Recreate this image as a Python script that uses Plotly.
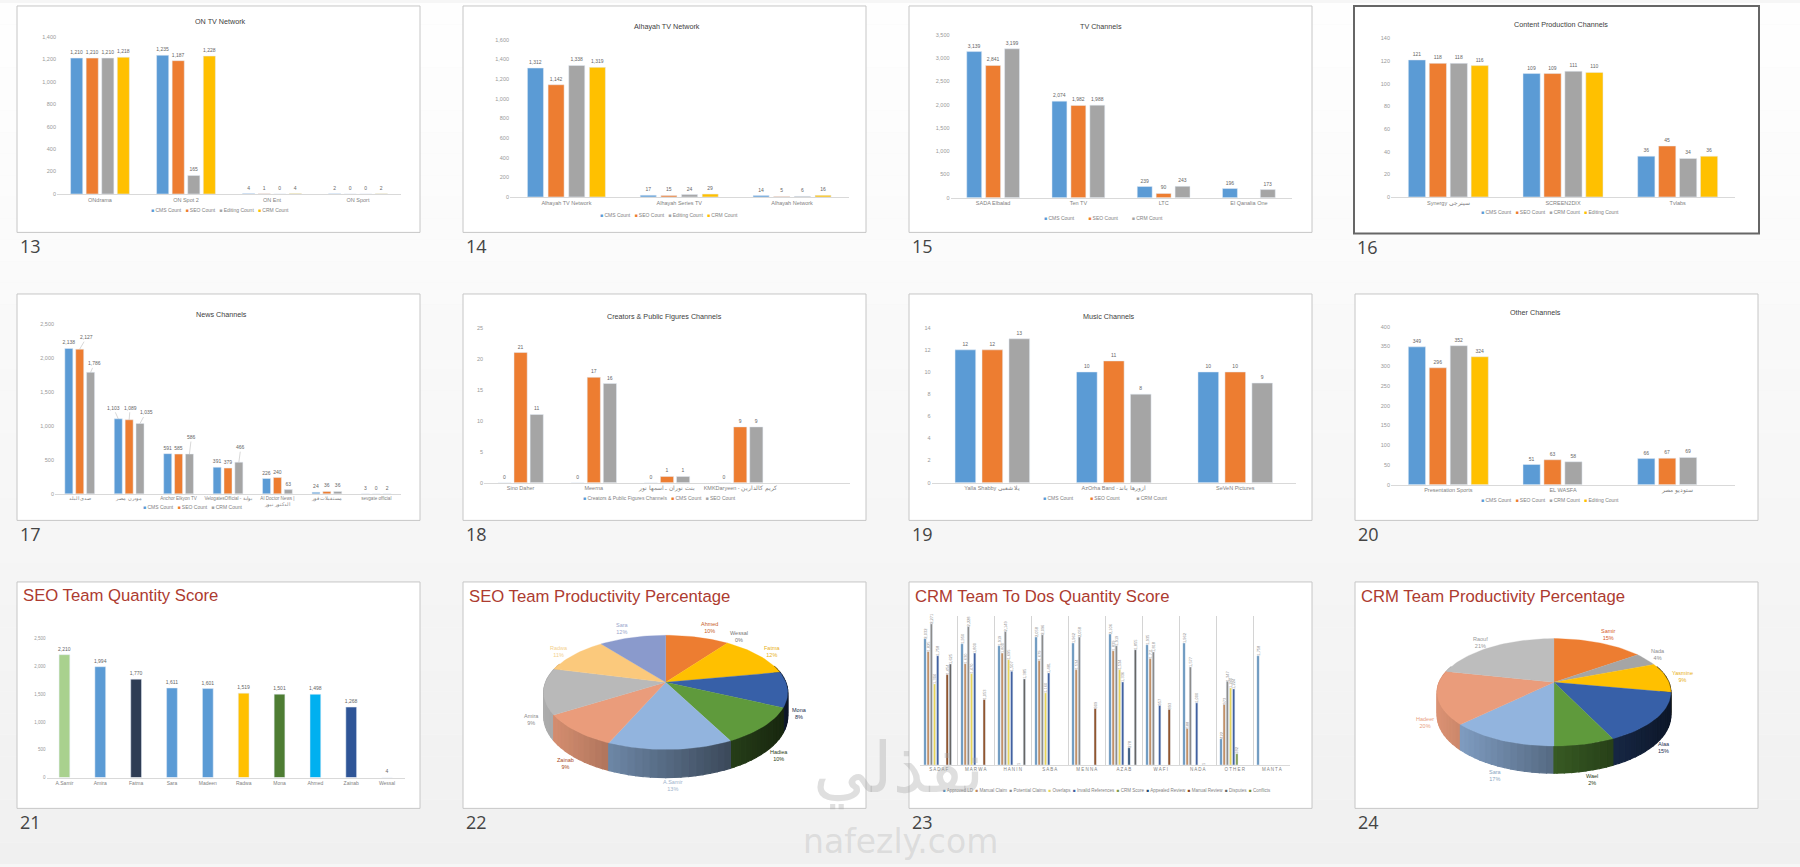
"""Slide sorter view: channel count charts and team productivity pies."""

import math

import plotly.graph_objects as go

WIDTH = 1800
HEIGHT = 867

BLUE = "#5b9bd5"
ORANGE = "#ed7d31"
GRAY = "#a5a5a5"
YELLOW = "#ffc000"
FONT = "Liberation Sans"
TEXT_GRAY = "#7f7f7f"

# slide 13
on_tv_cats = ["ONdrama", "ON Spot 2", "ON Ent", "ON Sport"]
on_tv_cms = [1210, 1235, 4, 2]
on_tv_seo = [1210, 1187, 1, 0]
on_tv_editing = [1210, 165, 0, 0]
on_tv_crm = [1218, 1228, 4, 2]

# slide 14
alhayah_cats = ["Alhayah TV Network", "Alhayah Series TV", "Alhayah Network"]
alhayah_cms = [1312, 17, 14]
alhayah_seo = [1142, 15, 5]
alhayah_editing = [1338, 24, 6]
alhayah_crm = [1319, 29, 16]

# slide 15
tv_cats = ["SADA Elbalad", "Ten TV", "LTC", "El Qanalia One"]
tv_cms = [3139, 2074, 239, 196]
tv_seo = [2841, 1982, 90, None]
tv_crm = [3199, 1988, 243, 173]

# slide 16
content_cats = ["Synergy سينرجي", "SCREEN2DIX", "Tvlabs"]
content_cms = [121, 109, 36]
content_seo = [118, 109, 45]
content_crm = [118, 111, 34]
content_editing = [116, 110, 36]

# slide 17
news_cats = [
    "صدى البلد",
    "مودرن مصر",
    "Anchor Elkyon TV",
    "VelogatesOfficial - بوابة",
    "Al Doctor News |<br>الدكتور نيوز",
    "مستقبلات فور",
    "sevgate official",
]
news_cms = [2138, 1103, 591, 391, 226, 24, 3]
news_seo = [2127, 1089, 585, 379, 240, 36, 0]
news_crm = [1786, 1035, 586, 466, 63, 36, 2]
# series index, category index, label shift in px
news_callouts = [
    (1, 0, 7, -9),
    (2, 0, 4, -6),
    (0, 1, -5, -8),
    (1, 1, 1, -9),
    (2, 1, 6, -8),
    (2, 2, 2, -14),
    (2, 3, 2, -12),
]

# slide 18
creators_cats = ["Sino Daher", "Meerna", "بنت نوران ـ اسمها نور", "KMKDaryeen - كريم كالدارين", ""]
creators_channels = [0, 0, 0, 0, None]
creators_cms = [21, 17, 1, 9, None]
creators_seo = [11, 16, 1, 9, None]

# slide 19
music_cats = ["Yalla Shabby يلا شعبي", "AzOrha Band - ازورها باند", "SeVeN Pictures"]
music_cms = [12, 10, 10]
music_seo = [12, 11, 10]
music_crm = [13, 8, 9]

# slide 20
other_cats = ["Presentation Sports", "EL WASFA", "ستوديو مصر"]
other_cms = [349, 51, 66]
other_seo = [296, 63, 67]
other_crm = [352, 58, 69]
other_editing = [324, None, None]

# slide 21
seo_names = ["A.Samir", "Amira", "Fatma", "Sara", "Madeen", "Radwa", "Mona", "Ahmed", "Zainab", "Wessal"]
seo_scores = [2210, 1994, 1770, 1611, 1601, 1519, 1501, 1498, 1268, 4]
seo_colors = ["#a9d18e", BLUE, "#2f3d55", BLUE, BLUE, YELLOW, "#4e7d33", "#00b0f0", "#2f5597", "#2f5597"]

# slide 22
seo_pie_names = ["Ahmed", "Wessal", "Fatma", "Mona", "Hadiea", "A.Samir", "Zainab", "Amira", "Radwa", "Sara"]
seo_pie_sizes = [10, 0, 12, 10, 10.5, 14, 9.5, 13, 10.5, 10.5]
seo_pie_labels = ["10%", "0%", "12%", "8%", "10%", "13%", "9%", "9%", "11%", "12%"]
seo_pie_colors = ["#ed7d31", "#a5a5a5", "#ffc000", "#3760a8", "#5f9a3c", "#92b4de", "#ea9c7b", "#b9b9b9", "#fbc97c", "#8a9acc"]
seo_pie_text_colors = ["#c8602a", "#777777", "#e8b020", "#1a2a4a", "#2a4015", "#9fb4cc", "#a8481a", "#8c8c8c", "#f3d08c", "#9aa6cc"]
seo_pie_spots = [(709, 629), (739, 638), (772, 653), (799, 715), (779, 758), (673, 788), (565, 766), (531, 721), (559, 653), (622, 630)]

# slide 23
crm_cats = ["SADAF", "MARWA", "HANIN", "SABA", "MENNA", "AZAB", "WAFI", "NADA", "OTHER", "MANTA"]
crm_series = ["Approved LD", "Manual Claim", "Potential Claims", "Overlaps", "Invalid References",
              "CRM Score", "Appealed Review", "Manual Review", "Disputes", "Conflicts"]
crm_colors = ["#5b8db8", "#c08a5c", "#8c8c8c", "#e8d45a", "#3f5f9f", "#7f9a4a", "#264a70", "#8a4a20", "#666666", "#7d8c2a"]
crm_approved = [2032, 1950, 1919, 2058, 1962, 2106, 1935, 1962, 422, 1758]
crm_manual_claim = [1825, 1630, 1800, 1679, 1534, 1839, 1711, 588, 973, None]
crm_potential = [2271, 2228, 2149, 2096, 2058, 1919, 1818, 1577, 1347, None]
crm_overlaps = [1304, 1470, 1695, 1160, None, 1534, None, None, 1240, None]
crm_invalid = [1758, 1800, 1507, 1481, None, 1336, 957, 1000, 1224, None]
crm_score = [None, None, None, None, None, None, None, None, 182, None]
crm_appealed = [None, None, 1, None, None, 278, None, 1, None, None]
crm_manual_review = [1454, 1053, None, None, 909, None, 893, None, None, None]
crm_disputes = [1625, None, 1385, None, None, 1855, None, None, None, None]
crm_conflicts = [None, None, None, None, None, None, None, None, None, None]

# slide 24
crm_pie_names = ["Samir", "Nada", "Yasmine", "Alaa", "Wael", "Sara", "Hadeer", "Raouf"]
crm_pie_sizes = [15, 4, 9, 15, 7, 12.5, 16, 21.5]
crm_pie_labels = ["15%", "4%", "9%", "15%", "2%", "17%", "20%", "21%"]
crm_pie_colors = ["#ed7d31", "#a5a5a5", "#ffc000", "#3760a8", "#5f9a3c", "#92b4de", "#ea9c7b", "#bdbdbd"]
crm_pie_text_colors = ["#d65a2a", "#8c8c8c", "#e8b020", "#1a3050", "#2a4015", "#8aa6bf", "#e8a080", "#999999"]
crm_pie_spots = [(1608, 636), (1658, 656), (1682, 678), (1664, 750), (1592, 782), (1495, 778), (1425, 725), (1480, 644)]

# slide frames: number, left, right, top, bottom
slide_frames = [
    (13, 17, 420, 3, 231), (14, 463, 866, 3, 231), (15, 909, 1312, 3, 231), (16, 1354, 1759, 3, 232),
    (17, 17, 420, 293, 521), (18, 463, 866, 293, 521), (19, 909, 1312, 293, 521), (20, 1355, 1758, 293, 521),
    (21, 17, 420, 583, 811), (22, 463, 866, 583, 811), (23, 909, 1312, 583, 811), (24, 1355, 1758, 583, 811),
]

fig = go.Figure()
notes = []
shapes = []


def note(x, y, text, size=6, color=TEXT_GRAY, anchor="center", family=FONT):
    """Put a text at a pixel position of the page."""
    notes.append(dict(
        x=x / WIDTH, y=1 - y / HEIGHT, xref="paper", yref="paper", text=text, showarrow=False,
        xanchor=anchor, yanchor="middle", font=dict(size=size, color=color, family=family),
    ))


def legend_note(x, y, names, colors, gap=3, size=5):
    entries = [f'<span style="color:{c}">■</span> {n}' for n, c in zip(names, colors)]
    note(x, y, ("\u00a0" * gap).join(entries), size=size)


def setup_axes(n, box, y_max, dtick, tick_size=5.5, cat_size=5.5, cats=None, y_labels=True):
    left, right, base, top = box
    fig.layout[f"xaxis{n}"] = dict(
        domain=[left / WIDTH, right / WIDTH], anchor=f"y{n}", type="category",
        categoryorder="array", categoryarray=cats, tickmode="array", tickvals=cats, ticktext=cats,
        range=[-0.5, len(cats) - 0.5], tickangle=0, showgrid=False, ticks="", showline=True,
        linecolor="#d9d9d9", linewidth=1, tickfont=dict(size=cat_size, color=TEXT_GRAY, family=FONT),
        zeroline=False, fixedrange=True,
    )
    fig.layout[f"yaxis{n}"] = dict(
        domain=[1 - base / HEIGHT, 1 - top / HEIGHT], anchor=f"x{n}", range=[0, y_max], dtick=dtick,
        tickformat=",d", showgrid=False, zeroline=False, showline=False, ticks="", showticklabels=y_labels,
        tickfont=dict(size=tick_size, color="#999999", family=FONT), fixedrange=True,
    )


def add_bars(n, cats, series, colors, box, y_max, dtick, bar_w, pitch, skip=(), cat_size=5.5):
    """Grouped bars for one slide; skip lists labels that are drawn with a leader line."""
    setup_axes(n, box, y_max, dtick, cats=cats, cat_size=cat_size)
    count = len(series)
    for i, (values, color) in enumerate(zip(series, colors)):
        labels = [
            "" if v is None or (i, j) in skip else f"{v:,}"
            for j, v in enumerate(values)
        ]
        fig.add_trace(go.Bar(
            x=cats, y=values, xaxis=f"x{n}", yaxis=f"y{n}", marker_color=color,
            width=bar_w, offset=(i - (count - 1) / 2) * pitch - bar_w / 2,
            text=labels, textposition="outside", textangle=0, constraintext="none", cliponaxis=False,
            textfont=dict(size=5, color="#666666", family=FONT), hoverinfo="skip",
        ))


def add_pie(values, colors, cx, cy, rx, ry, k, depth):
    """3D looking pie in perspective: walls first, then the top faces."""
    total = sum(values)
    semi = rx / math.sqrt(1 - k * k)

    def rim(deg):
        t = math.radians(deg)
        d = 1 + k * math.cos(t)
        return cx + rx * math.sin(t) / d, cy - ry * math.cos(t) / d, depth * (1 - k) / d

    walls = []
    start = 0.0
    spans = []
    for value, color in zip(values, colors):
        end = start + 360 * value / total
        spans.append((start, end, color))
        deg = start
        while deg < end:
            stop = min(deg + 3, end)
            if math.cos(math.radians(deg)) < 0.3 or math.cos(math.radians(stop)) < 0.3:
                walls.append((deg, stop, color))
            deg = stop
        start = end

    walls.sort(key=lambda w: -math.cos(math.radians((w[0] + w[1]) / 2)))
    for a, b, color in walls:
        xa, ya, da = rim(a)
        xb, yb, db = rim(b)
        shade = max(0.2, min(1, 0.59 - 0.35 * ((xa + xb) / 2 - cx) / semi))
        rgb = [int(int(color[i:i + 2], 16) * shade) for i in (1, 3, 5)]
        wall = f"rgb({rgb[0]},{rgb[1]},{rgb[2]})"
        fig.add_trace(go.Scatter(
            x=[xa, xb, xb, xa, xa], y=[ya, yb, yb + db, ya + da, ya], xaxis="x99", yaxis="y99",
            mode="lines", fill="toself", fillcolor=wall, line=dict(color=wall, width=1.2), hoverinfo="skip",
        ))

    for a, b, color in spans:
        if b <= a:
            continue
        steps = max(2, int((b - a) / 2))
        arc = [rim(a + (b - a) * s / steps) for s in range(steps + 1)]
        fig.add_trace(go.Scatter(
            x=[cx] + [p[0] for p in arc] + [cx], y=[cy] + [p[1] for p in arc] + [cy], xaxis="x99", yaxis="y99",
            mode="lines", fill="toself", fillcolor=color, line=dict(color=color, width=0.3), hoverinfo="skip",
        ))


# page background, a soft gradient going down
for band in range(40):
    level = 254 - int(band * 14 / 39)
    shapes.append(dict(
        type="rect", xref="paper", yref="paper", x0=0, x1=1,
        y0=1 - (band + 1) / 40, y1=1 - band / 40, layer="below", line_width=0,
        fillcolor=f"rgb({level},{level},{level})",
    ))

for number, left, right, top, bottom in slide_frames:
    selected = number == 16
    shapes.append(dict(
        type="rect", xref="paper", yref="paper", x0=left / WIDTH, x1=right / WIDTH,
        y0=1 - bottom / HEIGHT, y1=1 - top / HEIGHT, layer="below", fillcolor="white",
        line=dict(color="#666666" if selected else "#c6c6c6", width=2 if selected else 1),
    ))
    note(left + 1, bottom + 14, str(number), size=18, color="#444444", anchor="left", family="Open Sans")

add_bars(1, on_tv_cats, [on_tv_cms, on_tv_seo, on_tv_editing, on_tv_crm], [BLUE, ORANGE, GRAY, YELLOW],
         (57, 401, 192.3, 34), 1400, 200, 0.141, 0.181)
add_bars(2, alhayah_cats, [alhayah_cms, alhayah_seo, alhayah_editing, alhayah_crm], [BLUE, ORANGE, GRAY, YELLOW],
         (510, 848.5, 195.3, 37), 1600, 200, 0.142, 0.183)
add_bars(3, tv_cats, [tv_cms, tv_seo, tv_crm], [BLUE, ORANGE, GRAY],
         (950.5, 1291.5, 196, 32), 3500, 500, 0.175, 0.222)
add_bars(4, content_cats, [content_cms, content_seo, content_crm, content_editing], [BLUE, ORANGE, GRAY, YELLOW],
         (1391, 1735, 195.3, 35.7), 140, 20, 0.15, 0.1825)
add_bars(5, news_cats, [news_cms, news_seo, news_crm], [BLUE, ORANGE, GRAY],
         (55, 401, 494.3, 323), 2500, 500, 0.162, 0.22,
         skip={(s, c) for s, c, _, _ in news_callouts}, cat_size=4.6)
add_bars(6, creators_cats, [creators_channels, creators_cms, creators_seo], [BLUE, ORANGE, GRAY],
         (484, 850, 483, 327), 25, 5, 0.18, 0.22)
add_bars(7, music_cats, [music_cms, music_seo, music_crm], [BLUE, ORANGE, GRAY],
         (931.6, 1296, 483, 327), 14, 2, 0.17, 0.222)
add_bars(8, other_cats, [other_cms, other_seo, other_crm, other_editing], [BLUE, ORANGE, GRAY, YELLOW],
         (1391, 1735, 485, 326), 400, 50, 0.15, 0.1825)

# slide 21 colours every bar on its own
setup_axes(9, (46.5, 405, 780, 640), 2500, 500, tick_size=4.5, cat_size=5, cats=seo_names)
fig.add_trace(go.Bar(
    x=seo_names, y=seo_scores, xaxis="x9", yaxis="y9", marker_color=seo_colors, width=0.3,
    text=[f"{v:,}" for v in seo_scores], textposition="outside", textangle=0, constraintext="none",
    cliponaxis=False, textfont=dict(size=5, color="#666666", family=FONT), hoverinfo="skip",
))

# slide 23, ten thin series in each cluster
crm_values = [crm_approved, crm_manual_claim, crm_potential, crm_overlaps, crm_invalid,
              crm_score, crm_appealed, crm_manual_review, crm_disputes, crm_conflicts]
setup_axes(10, (920.3, 1290.3, 767.3, 617.3), 2396, 500, cat_size=4.5, cats=crm_cats, y_labels=False)
fig.layout.xaxis10.update(showgrid=True, gridcolor="#d4d4d4", gridwidth=1, tickson="boundaries")
fig.layout.xaxis10.ticktext = [" ".join(c) for c in crm_cats]
for i, (values, color) in enumerate(zip(crm_values, crm_colors)):
    fig.add_trace(go.Bar(
        x=crm_cats, y=values, xaxis="x10", yaxis="y10", marker_color=color,
        width=0.062, offset=-0.372 + i * 0.0856 - 0.031,
        text=["" if v is None else f"{v:,}" for v in values], textposition="outside", textangle=-90,
        constraintext="none", cliponaxis=False, textfont=dict(size=4, color="#8c8c8c", family=FONT),
        hoverinfo="skip",
    ))

# shared pixel axes for the two pies
fig.layout.xaxis99 = dict(domain=[0, 1], range=[0, WIDTH], visible=False, anchor="y99", fixedrange=True)
fig.layout.yaxis99 = dict(domain=[0, 1], range=[HEIGHT, 0], visible=False, anchor="x99", fixedrange=True)
add_pie(seo_pie_sizes, seo_pie_colors, 665.7, 684, 120.1, 55.7, 0.177, 28.3)
add_pie(crm_pie_sizes, crm_pie_colors, 1554, 684, 114.8, 52.2, 0.187, 27.3)

for names, labels, colors, spots in [
    (seo_pie_names, seo_pie_labels, seo_pie_text_colors, seo_pie_spots),
    (crm_pie_names, crm_pie_labels, crm_pie_text_colors, crm_pie_spots),
]:
    for name, label, color, (x, y) in zip(names, labels, colors, spots):
        note(x, y, f"{name}<br>{label}", size=5.5, color=color)

# chart titles
TITLE = "#404040"
note(220, 19, "ON TV Network", size=7.2, color=TITLE)
note(667, 24, "Alhayah TV Network", size=7.2, color=TITLE)
note(1101, 24, "TV Channels", size=7.2, color=TITLE)
note(1561, 22, "Content Production Channels", size=7.2, color=TITLE)
note(221, 314, "News Channels", size=7.2, color=TITLE)
note(664, 316, "Creators & Public Figures Channels", size=7.2, color=TITLE)
note(1109, 316, "Music Channels", size=7.2, color=TITLE)
note(1535, 312, "Other Channels", size=7.2, color=TITLE)
RED = "#ad3b30"
note(21, 597, "SEO Team Quantity Score", size=16.7, color=RED, anchor="left")
note(467, 598, "SEO Team Productivity Percentage", size=16.7, color=RED, anchor="left")
note(913, 598, "CRM Team To Dos Quantity Score", size=16.7, color=RED, anchor="left")
note(1359, 598, "CRM Team Productivity Percentage", size=16.7, color=RED, anchor="left")

# legends
four = ["CMS Count", "SEO Count", "Editing Count", "CRM Count"]
four_colors = [BLUE, ORANGE, GRAY, YELLOW]
legend_note(220, 208, four, four_colors)
legend_note(669, 213, four, four_colors)
legend_note(1103, 216, ["CMS Count", "SEO Count", "CRM Count"], [BLUE, ORANGE, GRAY], gap=10)
legend_note(1550, 210, ["CMS Count", "SEO Count", "CRM Count", "Editing Count"], four_colors)
legend_note(192, 508, ["CMS Count", "SEO Count", "CRM Count"], [BLUE, ORANGE, GRAY])
legend_note(659, 498, ["Creators & Public Figures Channels", "CMS Count", "SEO Count"], [BLUE, ORANGE, GRAY])
legend_note(1105, 498, ["CMS Count", "SEO Count", "CRM Count"], [BLUE, ORANGE, GRAY], gap=12)
legend_note(1550, 500, ["CMS Count", "SEO Count", "CRM Count", "Editing Count"], four_colors)
legend_note(1107, 793, crm_series, crm_colors, gap=2, size=4.5)

# leader lines on the news slide
news_values = [news_cms, news_seo, news_crm]
for s, c, dx, dy in news_callouts:
    notes.append(dict(
        x=c + (s - 1) * 0.22, y=news_values[s][c], xref="x5", yref="y5", text=f"{news_values[s][c]:,}",
        showarrow=True, arrowhead=0, arrowwidth=0.5, arrowcolor="#b0b0b0", ax=dx, ay=dy - 3,
        font=dict(size=5, color="#666666", family=FONT),
    ))

# watermark over everything
note(898, 771, "نفذلي", size=70, color="rgba(165,165,165,0.36)", family="DejaVu Sans")
note(900, 844, "nafezly.com", size=33, color="rgba(170,170,170,0.3)", family="DejaVu Sans")

fig.update_layout(
    width=WIDTH, height=HEIGHT, autosize=False, margin=dict(l=0, r=0, t=0, b=0, pad=0),
    barmode="overlay", showlegend=False, paper_bgcolor="#f6f6f6", plot_bgcolor="rgba(0,0,0,0)",
    shapes=shapes, annotations=notes, font=dict(family=FONT),
)

# the page's default body margin would push the slides off their places
fig.write_html("out.html", config={"displayModeBar": False}, post_script="document.body.style.margin = '0';")
